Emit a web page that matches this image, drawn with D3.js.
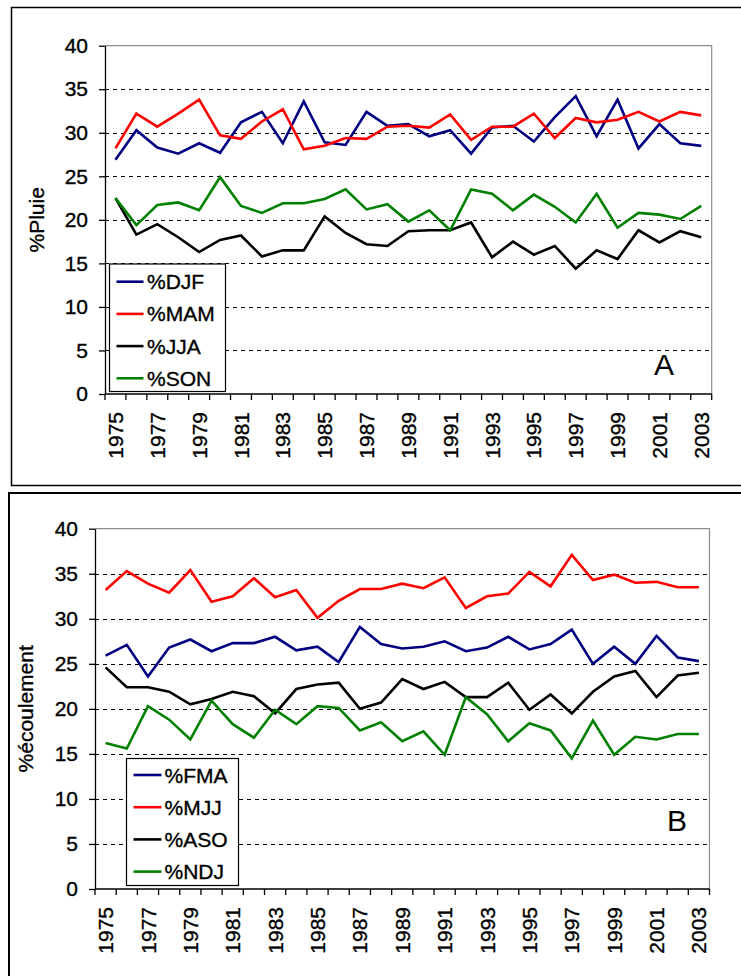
<!DOCTYPE html>
<html><head><meta charset="utf-8">
<script src="https://cdn.jsdelivr.net/npm/d3@7"></script>
<style>
body{margin:0;background:#fff;}
svg{display:block;}
text{font-family:"Liberation Sans",Arial,Helvetica,sans-serif;fill:#000;stroke:#000;stroke-width:0.35px;}
</style>
</head><body>
<svg id="c" width="741" height="976"></svg>
<script>
// ---- data ----
const years = [1975,1976,1977,1978,1979,1980,1981,1982,1983,1984,1985,1986,1987,1988,1989,1990,1991,1992,1993,1994,1995,1996,1997,1998,1999,2000,2001,2002,2003];
const yearLabels = ["1975","1977","1979","1981","1983","1985","1987","1989","1991","1993","1995","1997","1999","2001","2003"];
const yTicks = [0,5,10,15,20,25,30,35,40];

// Panel A: %Pluie
const djf = [26.9,30.3,28.3,27.6,28.8,27.7,31.2,32.4,28.8,33.6,28.9,28.6,32.4,30.8,31.0,29.6,30.3,27.6,30.6,30.8,29.0,31.8,34.2,29.6,33.8,28.2,31.0,28.8,28.5];
const mam = [28.2,32.2,30.7,32.2,33.8,29.7,29.3,31.3,32.7,28.1,28.5,29.4,29.3,30.7,30.8,30.6,32.1,29.2,30.7,30.7,32.2,29.4,31.7,31.2,31.5,32.4,31.3,32.4,32.0];
const jja = [22.5,18.3,19.5,18.0,16.3,17.7,18.2,15.8,16.5,16.5,20.4,18.5,17.2,17.0,18.7,18.8,18.8,19.7,15.7,17.5,16.0,17.0,14.4,16.5,15.5,18.8,17.4,18.7,18.0];
const son = [22.5,19.4,21.7,22.0,21.1,24.9,21.6,20.8,21.9,21.9,22.4,23.5,21.2,21.8,19.8,21.1,18.8,23.5,23.0,21.1,22.9,21.5,19.7,23.0,19.1,20.8,20.6,20.1,21.6];

// Panel B: %écoulement
const fma = [25.9,27.1,23.6,26.8,27.7,26.4,27.3,27.3,28.0,26.5,26.9,25.2,29.1,27.2,26.7,26.9,27.5,26.4,26.8,28.0,26.6,27.2,28.8,25.0,26.9,25.0,28.1,25.7,25.3];
const mjj = [33.2,35.3,33.9,32.9,35.4,31.9,32.5,34.5,32.4,33.2,30.1,32.0,33.3,33.3,33.9,33.4,34.6,31.2,32.5,32.8,35.2,33.6,37.1,34.3,34.9,34.0,34.1,33.5,33.5];
const aso = [24.6,22.4,22.4,21.9,20.5,21.1,21.9,21.4,19.5,22.2,22.7,22.9,20.0,20.7,23.3,22.2,23.0,21.3,21.3,22.9,19.9,21.6,19.5,21.9,23.6,24.2,21.3,23.7,24.0];
const ndj = [16.2,15.6,20.3,18.8,16.6,20.9,18.3,16.8,19.9,18.3,20.3,20.1,17.6,18.5,16.4,17.5,14.9,21.3,19.4,16.4,18.4,17.6,14.5,18.7,14.9,16.9,16.6,17.2,17.2];

const namesA = ["%DJF","%MAM","%JJA","%SON"];
const namesB = ["%FMA","%MJJ","%ASO","%NDJ"];
const colors = ["#000080","#ff0000","#000000","#008000"];

// ---- layout ----
const panels = [
  {frame:{x:11.5,y:7.5,w:800,h:478,sw:1.5}, plot:{l:105,r:711.7,t:45.7,b:394},
   title:"%Pluie", titleX:44, values:[djf,mam,jja,son], names:namesA,
   legend:{x:109.5,y:264,w:116,h:127.5,row0:281.7,step:32.2,l1:7,l2:34,tx:37.5},
   letter:"A", letterX:654, letterY:375},
  {frame:{x:9,y:493,w:800,h:520,sw:2}, plot:{l:95,r:709.5,t:528.7,b:889},
   title:"%écoulement", titleX:33, values:[fma,mjj,aso,ndj], names:namesB,
   legend:{x:126.5,y:758.5,w:112,h:127,row0:775,step:32.2,l1:7,l2:35,tx:38},
   letter:"B", letterX:667, letterY:831}
];

const svg = d3.select("#c");
svg.append("rect").attr("width",741).attr("height",976).attr("fill","#fff");

panels.forEach(p => {
  const g = svg.append("g");
  // outer frame
  g.append("rect").attr("x",p.frame.x).attr("y",p.frame.y).attr("width",p.frame.w).attr("height",p.frame.h)
    .attr("fill","none").attr("stroke","#000").attr("stroke-width",p.frame.sw);

  const x = d3.scaleBand().domain(years).range([p.plot.l,p.plot.r]).paddingInner(0).paddingOuter(0);
  const y = d3.scaleLinear().domain([0,40]).range([p.plot.b,p.plot.t]);

  // plot border top/right (gray)
  g.append("path").attr("d",`M${p.plot.l},${p.plot.t}H${p.plot.r}V${p.plot.b}`)
    .attr("fill","none").attr("stroke","#8c8c8c").attr("stroke-width",1.2);

  // gridlines
  g.append("g").selectAll("line").data(yTicks.filter(v=>v>0&&v<40)).join("line")
    .attr("x1",p.plot.l).attr("x2",p.plot.r)
    .attr("y1",d=>Math.round(y(d))+0.5).attr("y2",d=>Math.round(y(d))+0.5)
    .attr("stroke","#000").attr("stroke-width",1).attr("stroke-dasharray","4,4");

  // y axis
  const ya = g.append("g").attr("transform",`translate(${p.plot.l},0)`)
    .call(d3.axisLeft(y).tickValues(yTicks).tickSize(6).tickSizeOuter(0).tickPadding(11).tickFormat(d3.format("d")));
  ya.select(".domain").attr("stroke","#000").attr("stroke-width",1.3);
  ya.selectAll(".tick line").attr("stroke","#000").attr("stroke-width",1.3);
  ya.selectAll(".tick text").attr("font-size",21).attr("font-family","Liberation Sans, Arial, sans-serif").attr("fill","#000");

  // x axis: ticks at category boundaries
  const xa = g.append("g").attr("transform",`translate(0,${p.plot.b})`);
  xa.append("line").attr("x1",p.plot.l).attr("x2",p.plot.r).attr("stroke","#000").attr("stroke-width",1.3);
  const bounds = years.map(yr => x(yr)).concat([x(years[years.length-1]) + x.bandwidth()]);
  xa.selectAll("line.tk").data(bounds).join("line").attr("class","tk")
    .attr("x1",d=>d).attr("x2",d=>d).attr("y1",0).attr("y2",6).attr("stroke","#000").attr("stroke-width",1.3);
  xa.selectAll("text").data(yearLabels).join("text")
    .attr("transform",d=>`translate(${x(+d)+x.bandwidth()/2},18) rotate(-90)`)
    .attr("text-anchor","end").attr("dy","0.36em").attr("font-size",21).text(d=>d);

  // lines
  const line = d3.line().x((d,i)=>x(years[i])+x.bandwidth()/2).y(d=>y(d));
  p.values.forEach((vals,k) => {
    g.append("path").datum(vals).attr("d",line).attr("fill","none")
      .attr("stroke",colors[k]).attr("stroke-width",2.6).attr("stroke-linejoin","miter");
  });

  // y title
  g.append("text").attr("transform",`translate(${p.titleX},${(p.plot.t+p.plot.b)/2}) rotate(-90)`)
    .attr("text-anchor","middle").attr("font-size",21).text(p.title);

  // legend
  const L = p.legend;
  const lg = g.append("g").attr("transform",`translate(${L.x},${L.y})`);
  lg.append("rect").attr("width",L.w).attr("height",L.h).attr("fill","#fff").attr("stroke","#000").attr("stroke-width",1.2);
  p.names.forEach((nm,k) => {
    const cy = L.row0 - L.y + k*L.step;
    lg.append("line").attr("x1",L.l1).attr("x2",L.l2).attr("y1",cy).attr("y2",cy).attr("stroke",colors[k]).attr("stroke-width",2.6);
    lg.append("text").attr("x",L.tx).attr("y",cy).attr("dy","0.36em").attr("font-size",21).text(nm);
  });

  // panel letter (thin, as in reference)
  g.append("text").attr("x",p.letterX).attr("y",p.letterY).attr("font-size",30).style("stroke-width","0px").text(p.letter);
});
</script>
</body></html>
